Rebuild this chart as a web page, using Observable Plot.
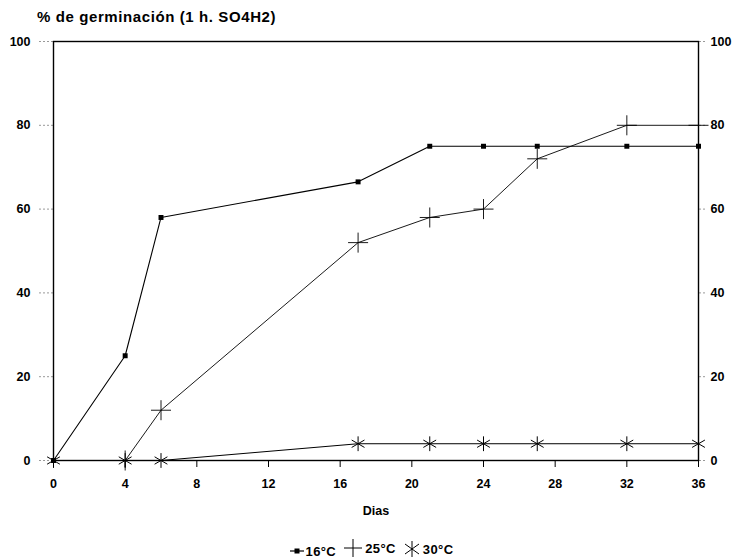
<!DOCTYPE html>
<html>
<head>
<meta charset="utf-8">
<script src="https://cdn.jsdelivr.net/npm/d3@7"></script>
<script src="https://cdn.jsdelivr.net/npm/@observablehq/plot@0.6"></script>
<style>
  body { margin: 0; background: #fff; font-family: "Liberation Sans", Arial, sans-serif; }
  #wrap { position: relative; width: 744px; height: 560px; }
  #title { position: absolute; left: 37px; top: 8px; font-weight: bold; font-size: 15px; letter-spacing: 0.6px; color: #000; }
  #chart { position: absolute; left: 0; top: 28px; }
  #legend { position: absolute; left: 0; top: 539px; width: 750px; text-align: center; font-weight: bold; font-size: 13px; letter-spacing: 0.4px; }
  #legend span.item { display: inline-flex; align-items: center; margin-right: 7px; }
  #legend svg { margin-right: 2px; }
</style>
</head>
<body>
<div id="wrap">
  <div id="title">% de germinación (1 h. SO4H2)</div>
  <div id="chart"></div>
  <div id="legend"></div>
</div>
<script>
const days16 = [0, 4, 6, 17, 21, 24, 27, 32, 36];
const vals16 = [0, 25, 58, 66.5, 75, 75, 75, 75, 75];
const days25 = [0, 4, 6, 17, 21, 24, 27, 32, 36];
const vals25 = [0, 0, 12, 52, 58, 60, 72, 80, 80];
const days30 = [0, 4, 6, 17, 21, 24, 27, 32, 36];
const vals30 = [0, 0, 0, 4, 4, 4, 4, 4, 4];
const seriesNames = ["16°C", "25°C", "30°C"];
const xTicks = [0, 4, 8, 12, 16, 20, 24, 28, 32, 36];
const yTicks = [0, 20, 40, 60, 80, 100];
const xLabel = "Dias";

const s16 = days16.map((d, i) => ({x: d, y: vals16[i]}));
const s25 = days25.map((d, i) => ({x: d, y: vals25[i]}));
const s30 = days30.map((d, i) => ({x: d, y: vals30[i]}));

const font = {fontWeight: "bold", fontSize: 12.5, fill: "#000"};

const chart = Plot.plot({
  width: 744,
  height: 502,
  marginTop: 13,
  marginLeft: 53,
  marginRight: 46,
  marginBottom: 70,
  style: {fontFamily: "'Liberation Sans', Arial, sans-serif", background: "white", color: "#000"},
  x: {domain: [0, 36]},
  y: {domain: [0, 100]},
  marks: [
    Plot.axisY({anchor: "left", ticks: yTicks, tickSize: 15, tickPadding: 8, stroke: "#999", strokeDasharray: "2,2", label: null, ...font}),
    Plot.axisY({anchor: "right", ticks: yTicks, tickSize: 8, tickPadding: 4, stroke: "#999", strokeDasharray: "2,2", label: null, ...font}),
    Plot.axisX({ticks: xTicks, tickSize: 7, tickPadding: 12, stroke: "#000", label: null, ...font}),
    Plot.frame({stroke: "#000", strokeWidth: 1.4}),
    Plot.text([xLabel], {frameAnchor: "bottom", dy: 54, ...font}),
    Plot.line(s30, {x: "x", y: "y", stroke: "#000", strokeWidth: 1}),
    Plot.line(s25, {x: "x", y: "y", stroke: "#000", strokeWidth: 0.9}),
    Plot.line(s16, {x: "x", y: "y", stroke: "#000", strokeWidth: 1.1}),
    Plot.dot(s30, {x: "x", y: "y", symbol: "asterisk", r: 7, stroke: "#000", strokeWidth: 1}),
    Plot.dot(s25.slice(1), {x: "x", y: "y", symbol: "plus", r: 6.5, stroke: "#000", strokeWidth: 0.9}),
    Plot.dot(s16, {x: "x", y: "y", symbol: "square", r: 2.8, fill: "#000", stroke: "none"})
  ]
});
document.getElementById("chart").appendChild(chart);

// legend
const icons = [
  '<svg width="14" height="12"><line x1="0" y1="6" x2="14" y2="6" stroke="#000" stroke-width="1.2"/><rect x="4.5" y="3.5" width="5" height="5" fill="#000"/></svg>',
  '<svg width="20" height="18"><line x1="1" y1="9" x2="19" y2="9" stroke="#000" stroke-width="1"/><line x1="10" y1="0" x2="10" y2="18" stroke="#000" stroke-width="1"/></svg>',
  '<svg width="18" height="16"><line x1="9" y1="0" x2="9" y2="16" stroke="#000" stroke-width="1"/><line x1="2" y1="3" x2="16" y2="13" stroke="#000" stroke-width="1"/><line x1="2" y1="13" x2="16" y2="3" stroke="#000" stroke-width="1"/></svg>'
];
const leg = document.getElementById("legend");
seriesNames.forEach((n, i) => {
  const s = document.createElement("span");
  s.className = "item";
  s.innerHTML = icons[i] + "<span>" + n + "</span>";
  leg.appendChild(s);
});
</script>
</body>
</html>
